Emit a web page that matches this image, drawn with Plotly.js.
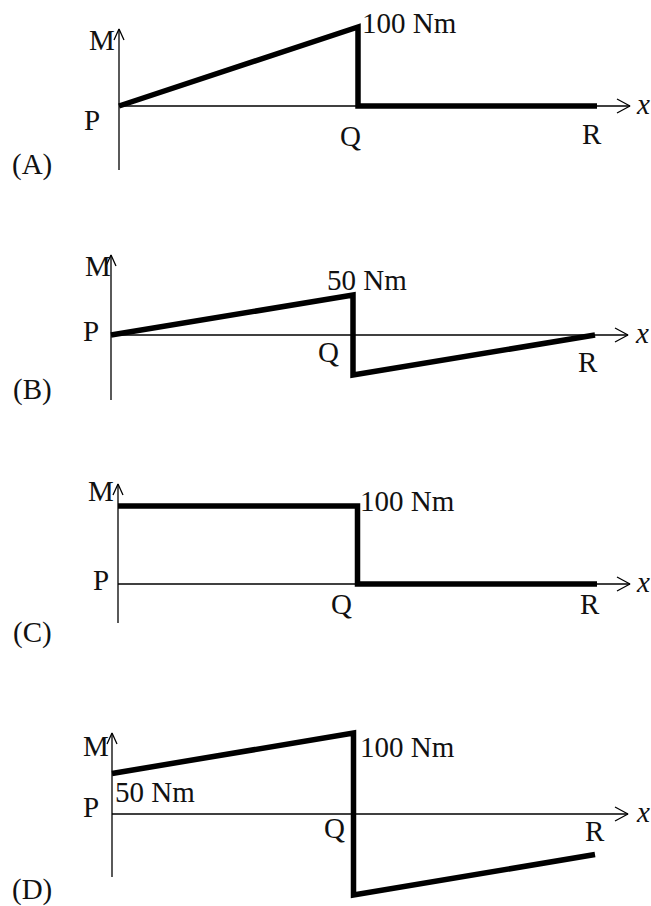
<!DOCTYPE html>
<html>
<head>
<meta charset="utf-8">
<script src="https://cdn.plot.ly/plotly-3.0.1.min.js"></script>
<style>
  body { margin: 0; background: #fff; }
  #chart { width: 651px; height: 906px; }
</style>
</head>
<body>
<div id="chart"></div>
<script>
// beam stations P, Q (left), Q (right), R
let beamX = [0, 1, 1, 2];

// bending moment in Nm at those stations, one list per option
let momentA = [0, 100, 0, 0];
let momentB = [0, 50, -50, 0];
let momentC = [100, 100, 0, 0];
let momentD = [50, 100, -100, -50];

let optionTags = ['(A)', '(B)', '(C)', '(D)'];
let valueLabels = [['100 Nm'], ['50 Nm'], ['100 Nm'], ['50 Nm', '100 Nm']];

let W = 651, H = 906;
let serif = 'Liberation Serif, Times New Roman, serif';
let fontSize = 29;

// where each sketch sits on the page (pixels)
let panels = [
    { y: momentA, pPx: 119, rPx: 597, axisPx: 106, pxPerNm: 0.79, topPx: 29, botPx: 170, tipPx: 630,
      M: [102, 40], P: [92, 120], Q: [350, 136], R: [592, 134], xl: [643, 104], tag: [32, 164],
      vals: [[361, 23]] },
    { y: momentB, pPx: 111, rPx: 595, axisPx: 335, pxPerNm: 0.8, topPx: 255, botPx: 400, tipPx: 628,
      M: [98, 266], P: [91, 331], Q: [328, 352], R: [588, 362], xl: [642, 333], tag: [32, 389],
      vals: [[326, 280]] },
    { y: momentC, pPx: 118, rPx: 597, axisPx: 584, pxPerNm: 0.78, topPx: 484, botPx: 623, tipPx: 630,
      M: [101, 491], P: [101, 580], Q: [341, 604], R: [590, 604], xl: [643, 582], tag: [32, 632],
      vals: [[359, 501]] },
    { y: momentD, pPx: 112, rPx: 595, axisPx: 814, pxPerNm: 0.81, topPx: 733, botPx: 877, tipPx: 628,
      M: [96, 746], P: [91, 807], Q: [334, 828], R: [595, 831], xl: [643, 812], tag: [32, 889],
      vals: [[114, 792], [359, 747]] }
];

let traces = [];
let shapes = [];
let annotations = [];
let layout = {
    width: W, height: H,
    margin: { l: 0, r: 0, t: 0, b: 0 },
    paper_bgcolor: '#fff', plot_bgcolor: 'rgba(0,0,0,0)',
    showlegend: false,
    hovermode: false
};

function note(text, pos, opts) {
    annotations.push(Object.assign({
        text: text, xref: 'paper', yref: 'paper',
        x: pos[0] / W, y: 1 - pos[1] / H,
        xanchor: 'center', yanchor: 'middle', showarrow: false,
        borderpad: 0,
        font: { family: serif, size: fontSize, color: '#111' }
    }, opts || {}));
}

panels.forEach((p, i) => {
    let n = i === 0 ? '' : String(i + 1);
    let ux = (p.rPx - p.pPx) / 2;           // pixels per beam unit
    let uy = p.pxPerNm;                      // pixels per Nm
    let xr = [-p.pPx / ux, (W - p.pPx) / ux];
    let yr = [-(H - p.axisPx) / uy, p.axisPx / uy];
    let xa = 'x' + n, ya = 'y' + n;

    layout['xaxis' + n] = { domain: [0, 1], range: xr, visible: false, fixedrange: true, anchor: ya };
    layout['yaxis' + n] = { domain: [0, 1], range: yr, visible: false, fixedrange: true, anchor: xa };

    // helpers: pixel offsets -> data units
    let dx = px => px / ux;
    let dy = px => px / uy;
    let top = (p.axisPx - p.topPx) / uy;
    let bot = -(p.botPx - p.axisPx) / uy;
    let tip = (p.tipPx - p.pPx) / ux;

    let thin = { color: '#000', width: 1.3 };
    // M axis
    shapes.push({ type: 'line', xref: xa, yref: ya, x0: 0, x1: 0, y0: bot, y1: top, line: thin, layer: 'below' });
    // x axis
    shapes.push({ type: 'line', xref: xa, yref: ya, x0: 0, x1: tip, y0: 0, y1: 0, line: thin, layer: 'below' });

    // open arrow heads
    traces.push({
        x: [-dx(5), 0, dx(5)], y: [top - dy(11), top, top - dy(11)],
        xaxis: xa, yaxis: ya, mode: 'lines', line: thin, hoverinfo: 'skip'
    });
    traces.push({
        x: [tip - dx(13), tip, tip - dx(13)], y: [dy(7), 0, -dy(7)],
        xaxis: xa, yaxis: ya, mode: 'lines', line: thin, hoverinfo: 'skip'
    });

    // bending moment diagram
    traces.push({
        x: beamX, y: p.y, xaxis: xa, yaxis: ya,
        mode: 'lines', line: { color: '#000', width: 5.5 }, hoverinfo: 'skip'
    });

    note('M', p.M);
    note('P', p.P);
    note('Q', p.Q);
    note('R', p.R);
    note('x', p.xl, { font: { family: serif, size: fontSize, color: '#111', style: 'italic' } });
    note(optionTags[i], p.tag);
    valueLabels[i].forEach((t, k) => note(t, p.vals[k], { xanchor: 'left' }));
});

layout.shapes = shapes;
layout.annotations = annotations;

Plotly.newPlot('chart', traces, layout, { staticPlot: true, displayModeBar: false });
</script>
</body>
</html>
